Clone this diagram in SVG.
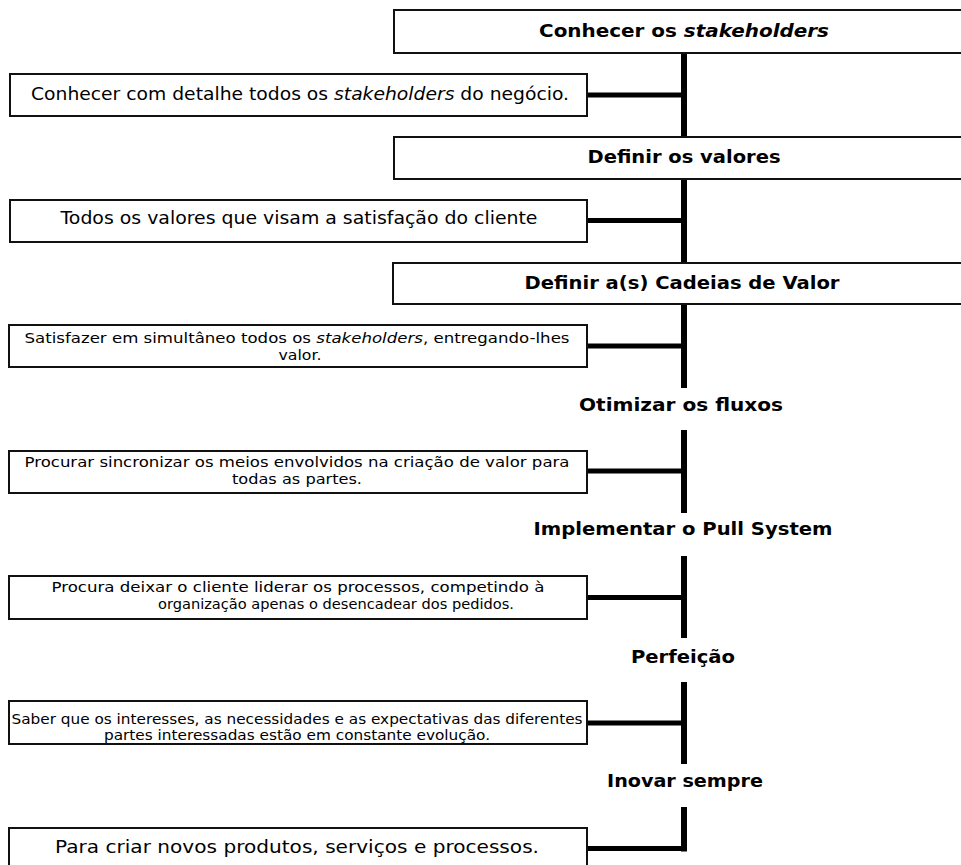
<svg xmlns="http://www.w3.org/2000/svg" width="961" height="865" viewBox="0 0 961 865">
<style>
.box{fill:#fff;stroke:#111;stroke-width:2}
.t{font-family:"DejaVu Sans",Verdana,sans-serif;fill:#000;text-anchor:middle}
.h{font-weight:bold;font-size:18px}
.b{font-size:17px}
.s{font-size:14px}
.i{font-style:italic}
.con{stroke:#000;fill:none}
</style>
<rect width="961" height="865" fill="#fff"/>
<g id="connectors">
<path class="con" stroke-width="6" d="M684 53V137M684 179V263M684 304V388M684 430V513M684 556V638M684 682V764M684 807V851.5"/>
<path class="con" stroke-width="5" d="M587 95H684M587 220.5H684M587 346H684M587 471H684M587 597.5H684M587 723H684M587 848.5H687"/>
</g>
<g id="n1"><rect class="box" x="394" y="10" width="572" height="43"/>
<text class="t h" x="684" y="37" textLength="290" lengthAdjust="spacingAndGlyphs">Conhecer os <tspan class="i">stakeholders</tspan></text></g>
<g id="d1"><rect class="box" x="10" y="74" width="577" height="42"/>
<text class="t b" x="300" y="100" textLength="538" lengthAdjust="spacingAndGlyphs">Conhecer com detalhe todos os <tspan class="i">stakeholders</tspan> do negócio.</text></g>
<g id="n2"><rect class="box" x="394" y="137" width="572" height="42"/>
<text class="t h" x="684" y="163" textLength="193" lengthAdjust="spacingAndGlyphs">Definir os valores</text></g>
<g id="d2"><rect class="box" x="10" y="200" width="577" height="42"/>
<text class="t b" x="299" y="224" textLength="477" lengthAdjust="spacingAndGlyphs">Todos os valores que visam a satisfação do cliente</text></g>
<g id="n3"><rect class="box" x="393" y="263" width="573" height="41"/>
<text class="t h" x="682" y="289" textLength="315" lengthAdjust="spacingAndGlyphs">Definir a(s) Cadeias de Valor</text></g>
<g id="d3"><rect class="box" x="9" y="325" width="578" height="42"/>
<text class="t s" x="297" y="343" textLength="545" lengthAdjust="spacingAndGlyphs">Satisfazer em simultâneo todos os <tspan class="i">stakeholders</tspan>, entregando-lhes</text>
<text class="t s" x="300" y="360" textLength="43" lengthAdjust="spacingAndGlyphs">valor.</text></g>
<g id="n4"><text class="t h" x="681" y="411" textLength="204" lengthAdjust="spacingAndGlyphs">Otimizar os fluxos</text></g>
<g id="d4"><rect class="box" x="9" y="451" width="578" height="42"/>
<text class="t s" x="297" y="467" textLength="545" lengthAdjust="spacingAndGlyphs">Procurar sincronizar os meios envolvidos na criação de valor para</text>
<text class="t s" x="297" y="484" textLength="130" lengthAdjust="spacingAndGlyphs">todas as partes.</text></g>
<g id="n5"><text class="t h" x="683" y="535" textLength="299" lengthAdjust="spacingAndGlyphs">Implementar o Pull System</text></g>
<g id="d5"><rect class="box" x="9" y="576" width="578" height="43"/>
<text class="t s" x="298" y="592" textLength="493" lengthAdjust="spacingAndGlyphs">Procura deixar o cliente liderar os processos, competindo à</text>
<text class="t s" x="336" y="609" textLength="356" lengthAdjust="spacingAndGlyphs">organização apenas o desencadear dos pedidos.</text></g>
<g id="n6"><text class="t h" x="683" y="663" textLength="104" lengthAdjust="spacingAndGlyphs">Perfeição</text></g>
<g id="d6"><rect class="box" x="9" y="701" width="578" height="43"/>
<text class="t s" x="297" y="724" textLength="571" lengthAdjust="spacingAndGlyphs">Saber que os interesses, as necessidades e as expectativas das diferentes</text>
<text class="t s" x="297" y="740" textLength="386" lengthAdjust="spacingAndGlyphs">partes interessadas estão em constante evolução.</text></g>
<g id="n7"><text class="t h" x="685" y="787" textLength="156" lengthAdjust="spacingAndGlyphs">Inovar sempre</text></g>
<g id="d7"><rect class="box" x="9" y="828" width="578" height="45"/>
<text class="t b" x="297" y="853" textLength="484" lengthAdjust="spacingAndGlyphs">Para criar novos produtos, serviços e processos.</text></g>
</svg>
